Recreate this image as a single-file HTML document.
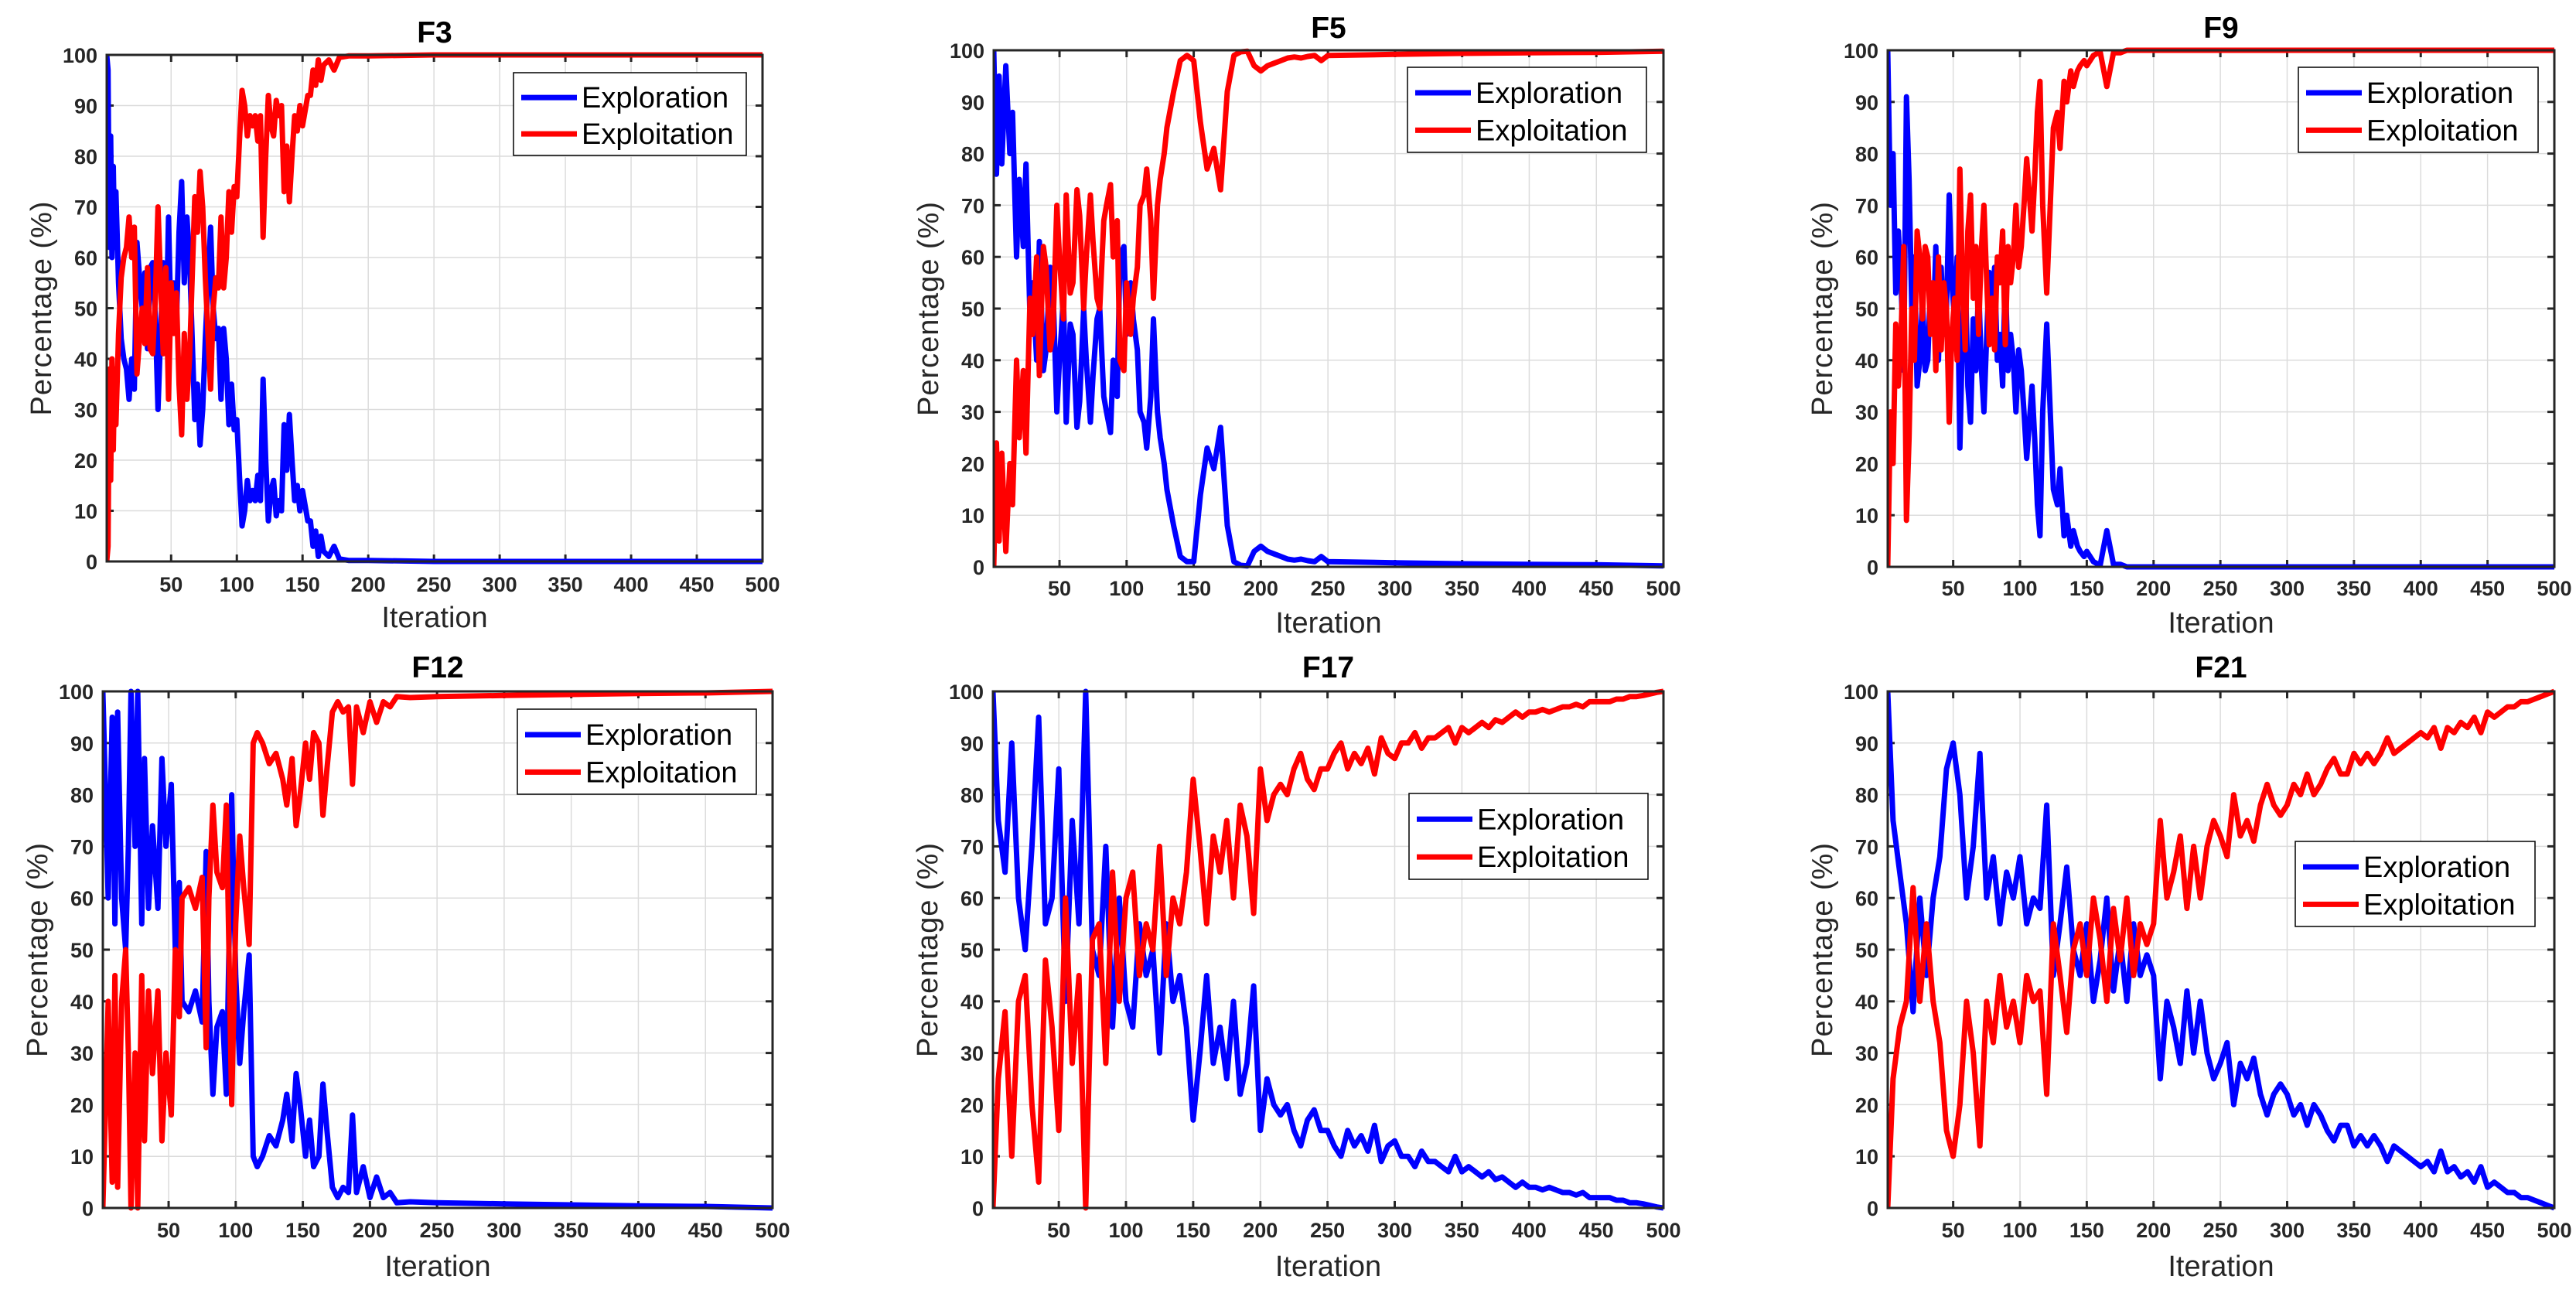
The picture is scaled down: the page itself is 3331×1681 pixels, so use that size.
<!DOCTYPE html>
<html><head><meta charset="utf-8"><title>Exploration vs Exploitation</title>
<style>
html,body{margin:0;padding:0;background:#fff;}
svg{display:block;font-family:"Liberation Sans",Arial,sans-serif;}
</style></head>
<body>
<svg id="fig" width="3331" height="1681" viewBox="0 0 3331 1681" xmlns="http://www.w3.org/2000/svg"></svg>
<script>
// ---------- DATA ----------
const xTicks = [50,100,150,200,250,300,350,400,450,500];
const yTicks = [0,10,20,30,40,50,60,70,80,90,100];
const seriesNames = ["Exploration","Exploitation"];

const f3Iter = [1,2,3,4,5,6,7,8,10,12,14,16,18,20,22,24,26,28,30,32,34,36,38,40,42,44,46,48,50,52,54,56,58,60,62,64,66,68,70,72,74,76,78,80,82,84,86,88,90,92,94,96,98,100,102,104,106,108,110,112,114,116,118,120,122,124,126,128,130,132,134,136,138,140,142,144,146,148,150,152,154,156,158,160,162,164,166,170,174,178,185,200,250,500];
const f3Explore = [100,97,62,84,60,78,62,73,55,44,40,38,32,40,34,63,56,50,57,42,58,59,48,30,45,59,42,68,45,55,47,65,75,55,68,60,44,28,35,23,30,44,55,66,50,44,46,32,46,40,27,35,26,28,17,7,10,16,12,14,12,17,12,36,20,8,14,16,9,12,10,27,18,29,20,12,15,10,14,11,8,8,3,6,1,5,2,1,3,0.5,0.2,0.2,0,0];
const f3Exploit = [0,3,38,16,40,22,38,27,45,56,60,62,68,60,66,37,44,50,43,58,42,41,52,70,55,41,58,32,55,45,53,35,25,45,32,40,56,72,65,77,70,56,45,34,50,56,54,68,54,60,73,65,74,72,83,93,90,84,88,86,88,83,88,64,80,92,86,84,91,88,90,73,82,71,80,88,85,90,86,89,92,92,97,94,99,95,98,99,97,99.5,99.8,99.8,100,100];

const f5Iter = [1,3,5,7,10,13,15,18,20,23,25,28,30,33,35,38,40,43,45,48,50,53,55,58,60,63,65,68,70,73,75,78,80,83,85,88,90,93,95,98,100,103,105,108,110,113,115,118,120,123,125,128,130,135,140,145,150,155,160,165,170,175,180,185,190,195,200,205,210,215,220,225,230,235,240,245,250,300,350,400,450,500];
const f5Explore = [100,76,95,78,97,80,88,60,75,62,78,48,55,40,63,38,42,58,55,30,40,52,28,47,45,27,32,50,40,28,37,48,50,33,30,26,40,33,60,62,45,55,48,42,30,28,23,33,48,30,25,20,15,8,2,1,1,14,23,19,27,8,1,0.3,0.2,3,4,3,2.5,2,1.5,1.3,1.5,1.2,1,2,1,0.8,0.6,0.5,0.4,0.2];
const f5Exploit = [0,24,5,22,3,20,12,40,25,38,22,52,45,60,37,62,58,42,45,70,60,48,72,53,55,73,68,50,60,72,63,52,50,67,70,74,60,67,40,38,55,45,52,58,70,72,77,67,52,70,75,80,85,92,98,99,98,86,77,81,73,92,99,99.7,99.8,97,96,97,97.5,98,98.5,98.7,98.5,98.8,99,98,99,99.2,99.4,99.5,99.6,99.8];

const f9Iter = [1,3,5,7,9,11,13,15,17,19,21,23,25,27,29,31,33,35,37,39,41,43,45,47,49,51,53,55,57,59,61,63,65,67,69,71,73,75,77,79,81,83,85,87,89,91,93,95,97,99,101,103,105,107,109,111,113,115,117,120,123,125,128,130,133,135,138,140,143,145,148,150,155,160,165,170,175,180,200,500];
const f9Explore = [100,70,80,53,65,55,38,91,75,50,60,35,40,52,38,40,55,45,62,40,58,45,50,72,55,48,60,23,45,58,35,28,48,38,55,39,30,44,57,48,58,40,45,35,57,38,45,40,30,42,38,30,21,28,35,25,12,6,30,47,28,15,12,19,6,10,4,7,4,3,2,3,1,0.3,7,0.5,0.5,0,0,0];
const f9Exploit = [0,30,20,47,35,45,62,9,25,50,40,65,60,48,62,60,45,55,38,60,42,55,50,28,45,52,40,77,55,42,65,72,52,62,45,61,70,56,43,52,42,60,55,65,43,62,55,60,70,58,62,70,79,72,65,75,88,94,70,53,72,85,88,81,94,90,96,93,96,97,98,97,99,99.7,93,99.5,99.5,100,100,100];

const f12Iter = [1,3,5,8,10,12,15,18,20,22,25,27,30,32,35,38,42,45,48,52,55,58,60,65,70,75,78,80,83,86,90,93,97,100,103,106,110,113,116,120,125,130,135,138,142,145,148,152,155,158,162,165,168,172,176,180,184,187,190,195,200,205,210,215,220,230,250,300,350,400,450,500];
const f12Explore = [100,80,60,95,55,96,60,50,70,100,70,100,55,87,58,74,58,87,70,82,50,63,40,38,42,36,69,40,22,35,38,22,80,45,28,38,49,10,8,10,14,12,17,22,13,26,20,10,17,8,10,24,15,4,2,4,3,18,3,8,2,6,2,3,1,1.2,1,0.8,0.6,0.4,0.3,0];
const f12Exploit = [0,20,40,5,45,4,40,50,30,0,30,0,45,13,42,26,42,13,30,18,50,37,60,62,58,64,31,60,78,65,62,78,20,55,72,62,51,90,92,90,86,88,83,78,87,74,80,90,83,92,90,76,85,96,98,96,97,82,97,92,98,94,98,97,99,98.8,99,99.2,99.4,99.6,99.7,100];

const f17Iter = [1,5,10,15,20,25,30,35,40,45,50,55,60,65,70,75,80,85,90,95,100,105,110,115,120,125,130,135,140,145,150,155,160,165,170,175,180,185,190,195,200,205,210,215,220,225,230,235,240,245,250,255,260,265,270,275,280,285,290,295,300,305,310,315,320,325,330,335,340,345,350,355,360,365,370,375,380,385,390,395,400,405,410,415,420,425,430,435,440,445,450,455,460,465,470,475,480,485,490,495,500];
const f17Explore = [100,75,65,90,60,50,70,95,55,60,85,40,75,55,100,50,45,70,35,60,40,35,55,45,50,30,55,40,45,35,17,30,45,28,35,25,40,22,28,43,15,25,20,18,20,15,12,17,19,15,15,12,10,15,12,14,11,16,9,12,13,10,10,8,11,9,9,8,7,10,7,8,7,6,7,5.5,6,5,4,5,4,4,3.5,4,3.5,3,3,2.5,3,2,2,2,2,1.5,1.5,1,1,0.8,0.5,0.2,0];
const f17Exploit = [0,25,38,10,40,45,20,5,48,35,15,60,28,45,0,52,55,28,65,40,60,65,45,55,50,70,45,60,55,65,83,70,55,72,65,75,60,78,72,57,85,75,80,82,80,85,88,83,81,85,85,88,90,85,88,86,89,84,91,88,87,90,90,92,89,91,91,92,93,90,93,92,93,94,93,94.5,94,95,96,95,96,96,96.5,96,96.5,97,97,97.5,97,98,98,98,98,98.5,98.5,99,99,99.2,99.5,99.8,100];

const f21Iter = [1,5,10,15,20,25,30,35,40,45,50,55,60,65,70,75,80,85,90,95,100,105,110,115,120,125,130,135,140,145,150,155,160,165,170,175,180,185,190,195,200,205,210,215,220,225,230,235,240,245,250,255,260,265,270,275,280,285,290,295,300,305,310,315,320,325,330,335,340,345,350,355,360,365,370,375,380,385,390,395,400,405,410,415,420,425,430,435,440,445,450,455,460,465,470,475,480,485,490,495,500];
const f21Explore = [100,75,65,55,38,60,45,60,68,85,90,80,60,70,88,60,68,55,65,60,68,55,60,58,78,45,55,66,50,45,55,40,48,60,42,52,40,55,45,49,45,25,40,35,28,42,30,40,30,25,28,32,20,28,25,29,22,18,22,24,22,18,20,16,20,18,15,13,16,16,12,14,12,14,12,9,12,11,10,9,8,9,7,11,7,8,6,7,5,8,4,5,4,3,3,2,2,1.5,1,0.5,0];
const f21Exploit = [0,25,35,40,62,40,55,40,32,15,10,20,40,30,12,40,32,45,35,40,32,45,40,42,22,55,45,34,50,55,45,60,52,40,58,48,60,45,55,51,55,75,60,65,72,58,70,60,70,75,72,68,80,72,75,71,78,82,78,76,78,82,80,84,80,82,85,87,84,84,88,86,88,86,88,91,88,89,90,91,92,91,93,89,93,92,94,93,95,92,96,95,96,97,97,98,98,98.5,99,99.5,100];

// ---------- LAYOUT (pixels, not data) ----------
const panels = [
  {id:"f3", title:"F3", iter:f3Iter, a:f3Explore, b:f3Exploit, L:138, R:986, T:71, B:726, titleY:41, tickY:755, xlabY:798, legend:{x:664,y:94,w:301,h:107}},
  {id:"f5", title:"F5", iter:f5Iter, a:f5Explore, b:f5Exploit, L:1285, R:2151, T:65, B:733, titleY:35, tickY:760, xlabY:805, legend:{x:1820,y:87,w:309,h:110}},
  {id:"f9", title:"F9", iter:f9Iter, a:f9Explore, b:f9Exploit, L:2441, R:3303, T:65, B:733, titleY:35, tickY:760, xlabY:805, legend:{x:2972,y:87,w:310,h:110}},
  {id:"f12", title:"F12", iter:f12Iter, a:f12Explore, b:f12Exploit, L:133, R:999, T:894, B:1562, titleY:862, tickY:1590, xlabY:1637, legend:{x:669,y:917,w:309,h:110}},
  {id:"f17", title:"F17", iter:f17Iter, a:f17Explore, b:f17Exploit, L:1284, R:2151, T:894, B:1562, titleY:862, tickY:1590, xlabY:1637, legend:{x:1822,y:1026,w:309,h:111}},
  {id:"f21", title:"F21", iter:f21Iter, a:f21Explore, b:f21Exploit, L:2441, R:3303, T:894, B:1562, titleY:862, tickY:1590, xlabY:1637, legend:{x:2968,y:1088,w:310,h:110}}
];

const NS = "http://www.w3.org/2000/svg";
const svg = document.getElementById("fig");
function mk(tag, attrs, parent){
  const e = document.createElementNS(NS, tag);
  for (const k in attrs) e.setAttribute(k, attrs[k]);
  (parent||svg).appendChild(e);
  return e;
}
const defs = mk("defs", {});

panels.forEach(p => {
  const g = mk("g", {});
  
  
  const xS = v => p.L + (v - 1) / 499 * (p.R - p.L);
  const yS = v => p.B - v / 100 * (p.B - p.T);

  const cp = mk("clipPath", {id:"clip-" + p.id}, defs);
  mk("rect", {x:p.L, y:p.T-4, width:p.R-p.L, height:p.B-p.T+8}, cp);

  const grid = mk("g", {stroke:"#dcdcdc", "stroke-width":1.5}, g);
  
  
  xTicks.forEach(t => mk("line", {x1:xS(t), x2:xS(t), y1:p.T, y2:p.B}, grid));
  yTicks.forEach(t => mk("line", {x1:p.L, x2:p.R, y1:yS(t), y2:yS(t)}, grid));

  const ticks = mk("g", {stroke:"#262626", "stroke-width":3}, g);
  
  
  xTicks.forEach(t => {
    mk("line", {x1:xS(t), x2:xS(t), y1:p.B, y2:p.B-9}, ticks);
    mk("line", {x1:xS(t), x2:xS(t), y1:p.T, y2:p.T+9}, ticks);
  });
  yTicks.forEach(t => {
    mk("line", {x1:p.L, x2:p.L+9, y1:yS(t), y2:yS(t)}, ticks);
    mk("line", {x1:p.R, x2:p.R-9, y1:yS(t), y2:yS(t)}, ticks);
  });

  const xl = mk("g", {"font-size":27, "font-weight":"bold", fill:"#262626", "text-anchor":"middle"}, g);
  
  
  xTicks.forEach(t => { const e = mk("text", {x:xS(t), y:p.tickY+10}, xl); e.textContent = t; });
  const yl = mk("g", {"font-size":27, "font-weight":"bold", fill:"#262626", "text-anchor":"end"}, g);
  
  
  yTicks.forEach(t => { const e = mk("text", {x:p.L-12, y:yS(t)+10}, yl); e.textContent = t; });

  const lines = mk("g", {"clip-path":"url(#clip-" + p.id + ")", fill:"none", "stroke-width":7, "stroke-linejoin":"round"}, g);
  const dA = p.iter.map((v,i) => (i ? "L" : "M") + xS(v).toFixed(1) + "," + yS(p.a[i]).toFixed(1)).join("");
  const dB = p.iter.map((v,i) => (i ? "L" : "M") + xS(v).toFixed(1) + "," + yS(p.b[i]).toFixed(1)).join("");
  const la = mk("path", {d:dA, stroke:"#0000ff"}, lines);
  
  
  const lb = mk("path", {d:dB, stroke:"#ff0000"}, lines);
  
  

  const box = mk("rect", {x:p.L, y:p.T, width:p.R-p.L, height:p.B-p.T, fill:"none", stroke:"#262626", "stroke-width":3}, g);
  
  

  const cx = (p.L + p.R) / 2;
  const tt = mk("text", {x:cx, y:p.titleY+14, "font-size":39, "font-weight":"bold", "text-anchor":"middle", fill:"#000"}, g);
  tt.textContent = p.title;
  
  
  const xt = mk("text", {x:cx, y:p.xlabY+13, "font-size":38, "text-anchor":"middle", fill:"#262626"}, g);
  xt.textContent = "Iteration";
  
  
  const ycx = p.L - 85, ycy = (p.T + p.B) / 2;
  const yt = mk("text", {x:ycx, y:ycy+13, "font-size":38, "text-anchor":"middle", fill:"#262626", "letter-spacing":1, transform:"rotate(-90 " + ycx + " " + ycy + ")"}, g);
  yt.textContent = "Percentage (%)";
  
  

  const lg = mk("g", {}, g);
  
  
  const q = p.legend;
  mk("rect", {x:q.x, y:q.y, width:q.w, height:q.h, fill:"#fff", stroke:"#000", "stroke-width":1.5}, lg);
  [["#0000ff", 0.30], ["#ff0000", 0.74]].forEach((s, i) => {
    const yy = q.y + q.h * s[1];
    const ent = mk("g", {}, lg);
    
    
    mk("line", {x1:q.x+10, x2:q.x+82, y1:yy, y2:yy, stroke:s[0], "stroke-width":7}, ent);
    const tx = mk("text", {x:q.x+88, y:yy+13, "font-size":38, fill:"#000"}, ent);
    tx.textContent = seriesNames[i];
  });
});
</script>
</body></html>
